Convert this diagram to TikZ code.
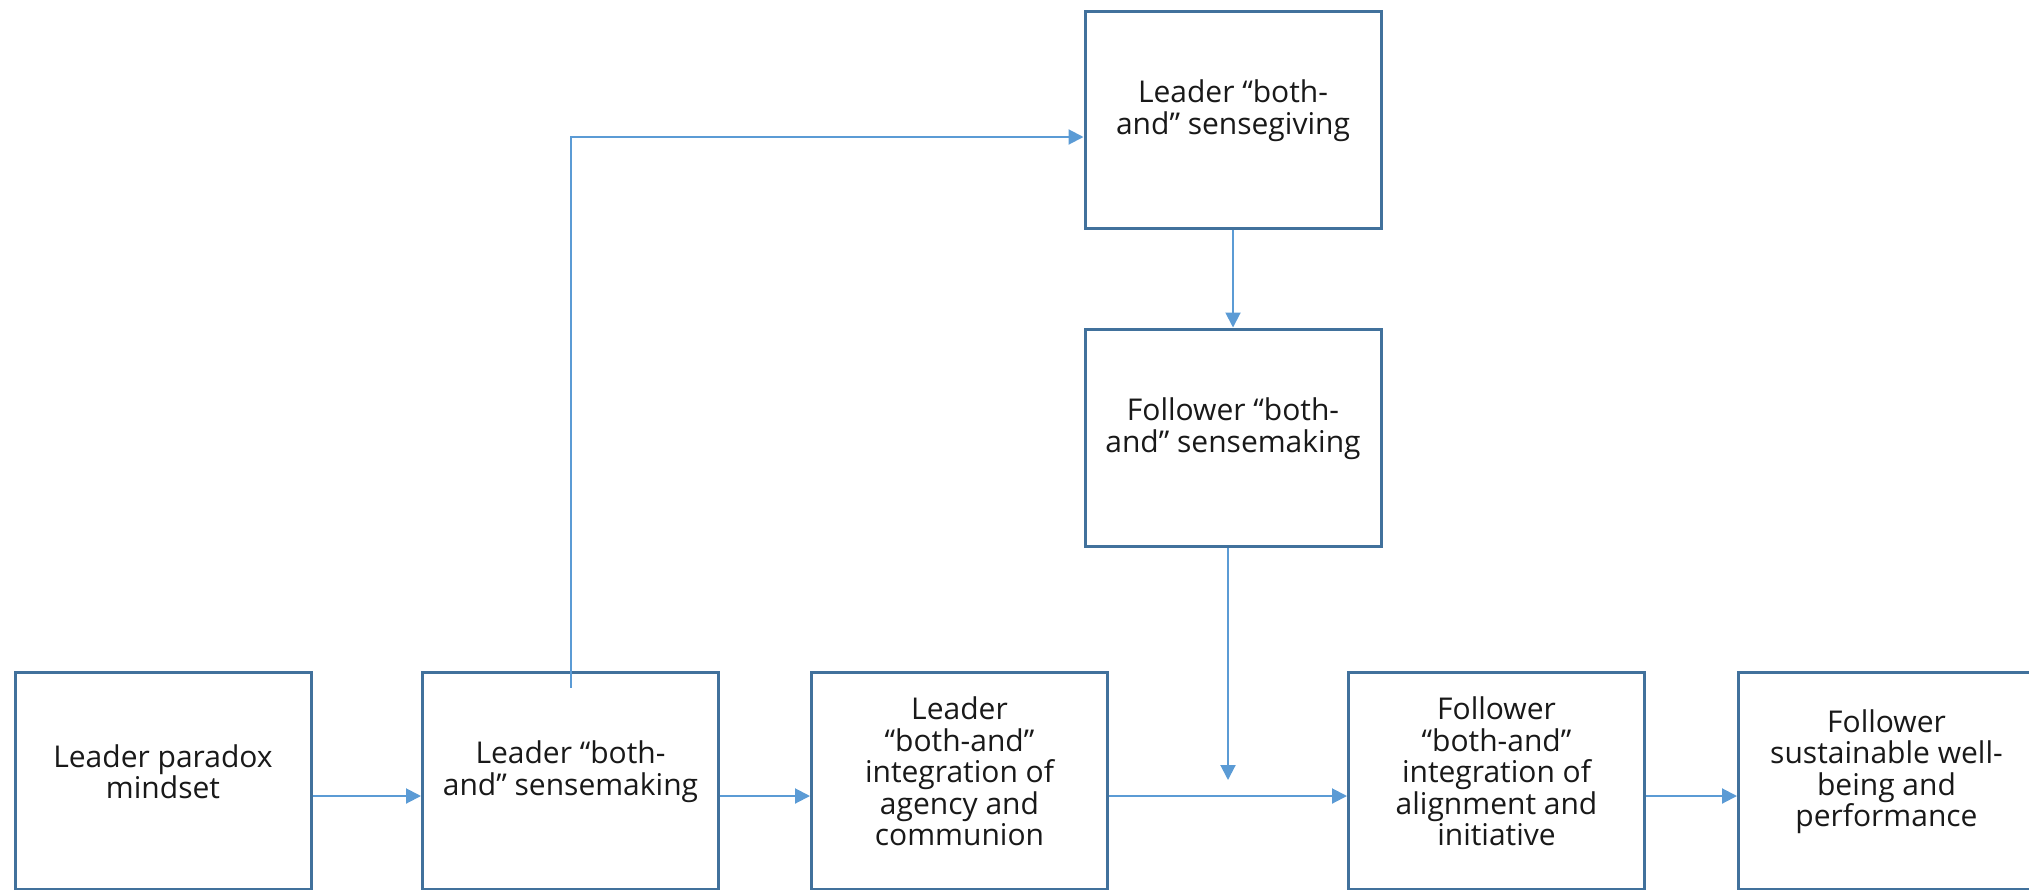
\documentclass[tikz,border=0pt]{standalone}
\usepackage{fontspec}
\setmainfont{Open Sans}
\usetikzlibrary{arrows.meta}
\definecolor{boxc}{RGB}{65,113,156}
\definecolor{arrc}{RGB}{91,155,213}
\begin{document}
\begin{tikzpicture}[x=1pt,y=-1pt,
  box/.style={draw=boxc, line width=3pt, minimum width=296pt, minimum height=217pt, inner sep=0pt, fill=white},
  lbl/.style={align=center, font=\fontsize{30}{31.5}\selectfont, text=black!90, inner sep=0pt},
  arr/.style={draw=arrc, line width=2pt, -{Triangle[length=15pt,width=15pt]}}]
\useasboundingbox (0,0) rectangle (2029,889);
\clip (0,0) rectangle (2029,889);
% boxes
\node[box] (b1) at (163,780.5) {};
\node[box] (b2) at (570.5,780.5) {};
\node[box] (b3) at (959.5,780.5) {};
\node[box] (b4) at (1496.5,780.5) {};
\node[box] (b5) at (1886.5,780.5) {};
\node[box] (t1) at (1233,119.5) {};
\node[box] (t2) at (1233,437.5) {};
% labels
\node[lbl] (b1t) at ([yshift=9pt]b1.center) {Leader paradox\\mindset};
\node[lbl] (b2t) at ([yshift=9pt]b2.center) {Leader “both-\\and” sensemaking};
\node[lbl] (b3t) at ([yshift=9pt]b3.center) {Leader\\“both-and”\\integration of\\agency and\\communion};
\node[lbl] (b4t) at ([yshift=9pt]b4.center) {Follower\\“both-and”\\integration of\\alignment and\\initiative};
\node[lbl] (b5t) at ([yshift=9pt]b5.center) {Follower\\sustainable well-\\being and\\performance};
\node[lbl] (t1t) at ([yshift=9pt]t1.center) {Leader “both-\\and” sensegiving};
\node[lbl] (t2t) at ([yshift=9pt]t2.center) {Follower “both-\\and” sensemaking};
% connectors
\draw[arr] ([yshift=-15.5pt]b1.east) -- ([yshift=-15.5pt]b2.west);
\draw[arr] ([yshift=-15.5pt]b2.east) -- ([yshift=-15.5pt]b3.west);
\draw[arr] ([yshift=-15.5pt]b3.east) -- ([yshift=-15.5pt]b4.west);
\draw[arr] ([yshift=-15.5pt]b4.east) -- ([yshift=-15.5pt]b5.west);
\draw[arr] ([yshift=-17pt]b2.north) |- ([yshift=-17.5pt]t1.west);
\draw[arr] (t1.south) -- (t2.north);
\coordinate (m) at (1228,780);
\draw[arr] (t2.south -| m) -- (m);
\end{tikzpicture}
\end{document}
